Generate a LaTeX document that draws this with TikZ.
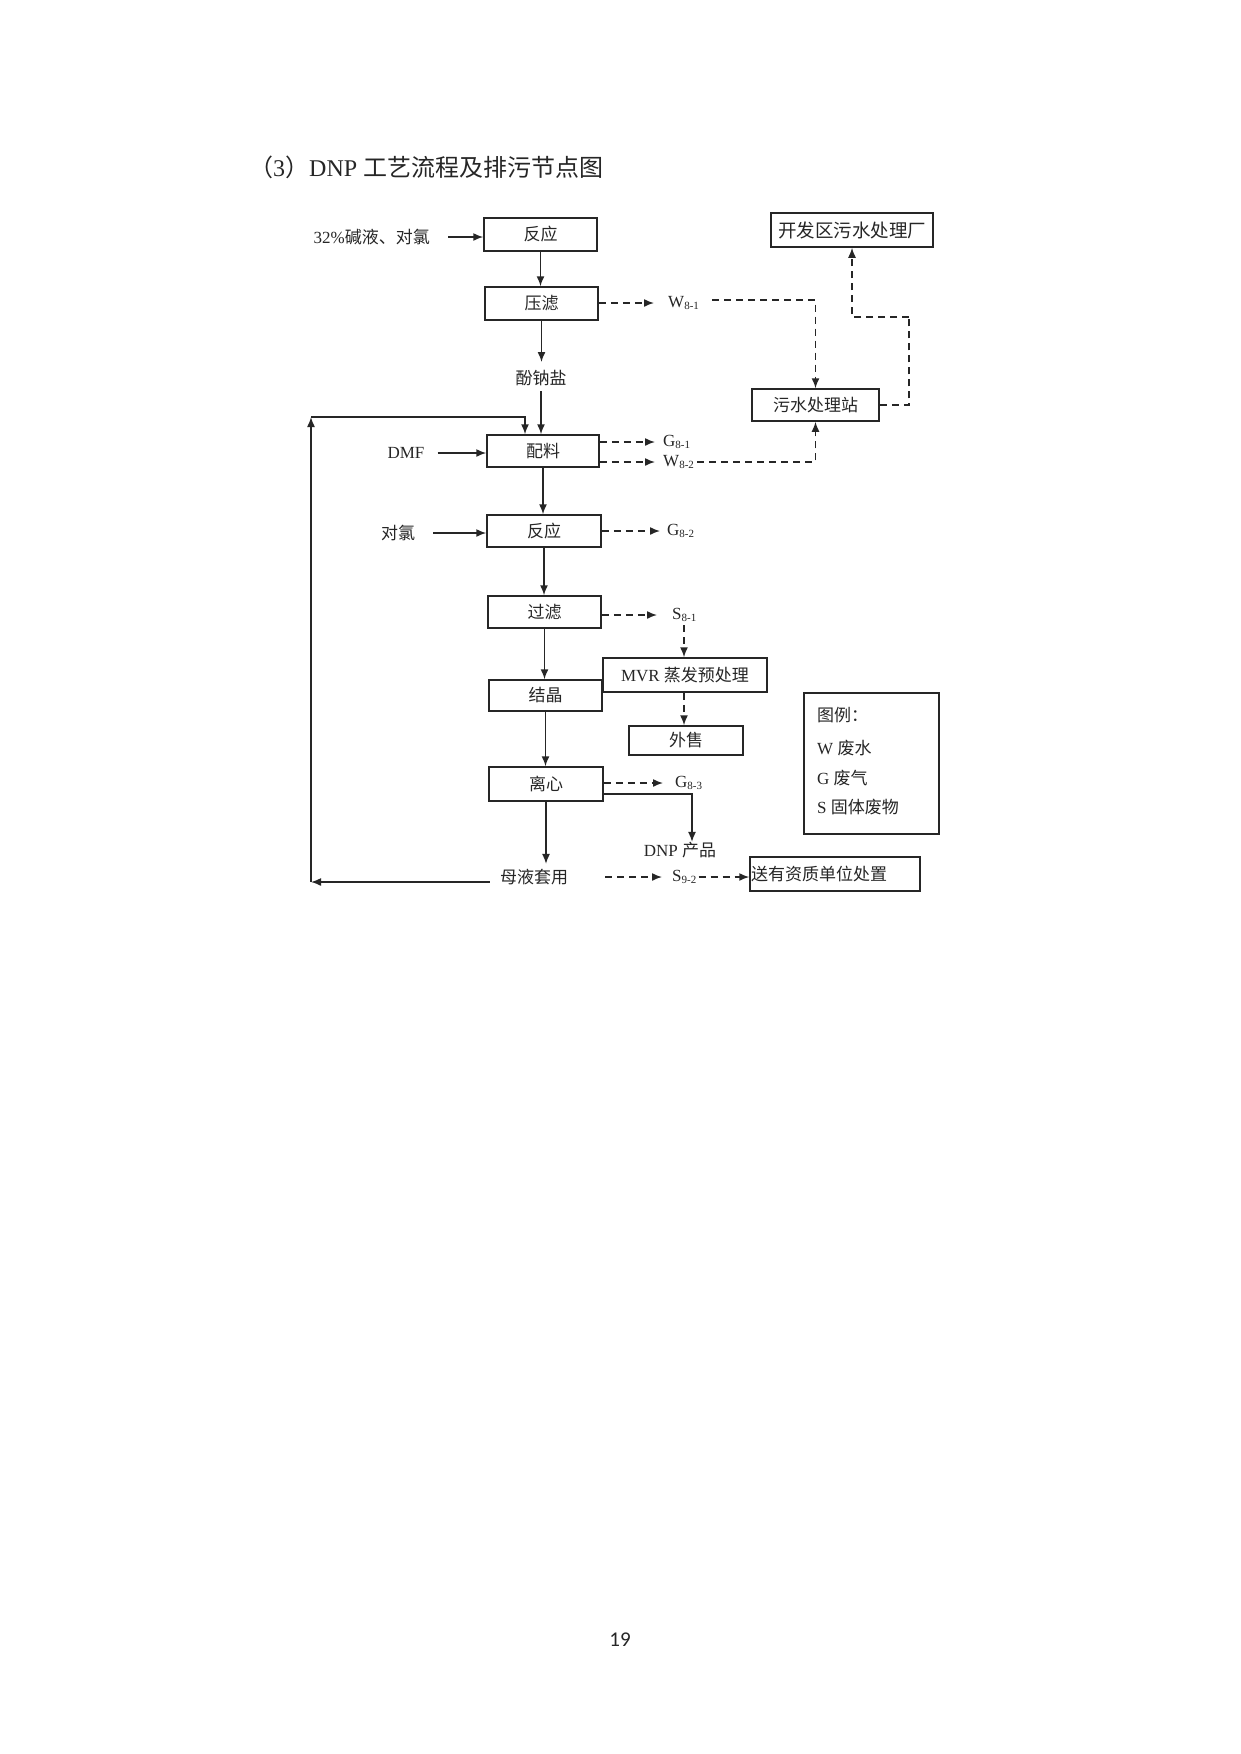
\documentclass[tikz,border=0pt]{standalone}
\usepackage{fontspec}
\setmainfont{Liberation Serif}
\newfontfamily\cjk{Noto Sans CJK SC}
\newfontfamily\pagefont{Carlito}
\usetikzlibrary{arrows.meta}
\newcommand\sbs[1]{\raisebox{-0.35ex}{\fontsize{11}{12}\selectfont #1}}
\begin{document}
\begin{tikzpicture}[x=1pt,y=-1pt,
  every node/.style={text=black!85},
  box/.style={draw=black!85,line width=1.5pt,inner sep=0pt,font=\fontsize{17}{20}\selectfont\cjk},
  lbl/.style={inner sep=0pt,font=\fontsize{17}{20}\selectfont},
  arr/.style={draw=black!85,line width=1.5pt,-{Latex[length=10pt,width=8pt]}},
  darr/.style={arr,dash pattern=on 7pt off 5pt},
  dline/.style={draw=black!85,line width=1.5pt,dash pattern=on 7pt off 5pt}]
\useasboundingbox (0,0) rectangle (1241,1754);
\fill[white] (0,0) rectangle (1241,1754);

% title
\node[anchor=west,inner sep=0pt,font=\fontsize{24}{28}\selectfont] (title) at (249,167)
  {{\cjk （}3{\cjk ）}DNP {\cjk 工艺流程及排污节点图}};

% main column
\node[box,minimum width=113pt,minimum height=33pt] (r1) at (540.5,234.5) {反应};
\node[box,minimum width=113pt,minimum height=33pt] (yl) at (541.5,303.5) {压滤};
\node[lbl] (fns) at (541,378) {\cjk 酚钠盐};
\node[box,minimum width=112pt,minimum height=32pt] (pl) at (543,451) {配料};
\node[box,minimum width=114pt,minimum height=32pt] (r2) at (544,531) {反应};
\node[box,minimum width=113pt,minimum height=32pt] (gl) at (544.5,612) {过滤};
\node[box,minimum width=113pt,minimum height=31pt] (jj) at (545.5,695.5) {结晶};
\node[box,minimum width=114pt,minimum height=34pt] (lx) at (546,784) {离心};
\node[lbl] (myy) at (534,877) {\cjk 母液套用};

% side boxes
\node[box,minimum width=164pt,minimum height=34pt] (mvr) at (685,675) {{\rmfamily MVR }蒸发预处理};
\node[box,minimum width=114pt,minimum height=29pt] (ws) at (686,740.5) {外售};
\node[box,minimum width=162pt,minimum height=34pt,font=\fontsize{18.5}{21}\selectfont\cjk] (kfq) at (852,230) {开发区污水处理厂};
\node[box,minimum width=127pt,minimum height=32pt] (wsz) at (815.5,405) {污水处理站};
\node[box,text width=168pt,align=left,inner xsep=1pt,minimum height=34pt] (sy) at (835,874) {送有资质单位处置};
\node[lbl] (dnp) at (680,850) {DNP {\cjk 产品}};

% inputs
\node[lbl,anchor=east] (in1) at (430,237) {32\%{\cjk 碱液、对氯}};
\node[lbl] (dmf) at (406,453) {DMF};
\node[lbl] (dl) at (398,533) {\cjk 对氯};
\draw[arr] ([xshift=18pt]in1.east) -- (in1.east -| r1.west);
\draw[arr] ([xshift=13pt]dmf.east) -- (dmf.east -| pl.west);
\draw[arr] ([xshift=18pt]dl.east) -- (dl.east -| r2.west);

% main flow
\draw[arr] (r1.south) -- (r1.south |- yl.north);
\draw[arr,shorten >=8pt] (yl.south) -- (yl.south |- fns.north);
\draw[arr,shorten <=5pt] (fns.south) -- (fns.south |- pl.north);
\draw[arr] (pl.south) -- (pl.south |- r2.north);
\draw[arr] (r2.south) -- (r2.south |- gl.north);
\draw[arr] (gl.south) -- (gl.south |- jj.north);
\draw[arr] (jj.south) -- (jj.south |- lx.north);
\draw[arr,shorten >=5pt] (lx.south) -- (lx.south |- myy.north);

% recycle loop
\coordinate (c1) at (311,882);
\coordinate (c2) at (311,417);
\draw[arr] ([xshift=-10pt,yshift=-5pt]myy.west) -- (c1);
\draw[arr] (c1) -- (c2);
\draw[arr] (c2) -| ([xshift=-18pt]pl.north);

% emissions
\node[lbl,anchor=west] (w81) at (668,303) {W\sbs{8-1}};
\node[lbl,anchor=west] (g81) at (663,442) {G\sbs{8-1}};
\node[lbl,anchor=west] (w82) at (663,462) {W\sbs{8-2}};
\node[lbl,anchor=west] (g82) at (667,531) {G\sbs{8-2}};
\node[lbl,anchor=west] (s81) at (672,615) {S\sbs{8-1}};
\node[lbl,anchor=west] (g83) at (675,783) {G\sbs{8-3}};
\node[lbl,anchor=west] (s92) at (672,877) {S\sbs{9-2}};

\draw[darr] (yl.east |- w81.west) -- ([xshift=-14pt]w81.west);
\draw[darr] ([xshift=13pt,yshift=3pt]w81.east) -| (wsz.north);
\coordinate (e1) at (909,317);
\draw[dline] (wsz.east) -| (e1);
\draw[darr] (e1) -| (kfq.south);

\draw[darr] (pl.east |- g81.west) -- ([xshift=-8pt]g81.west);
\draw[darr] (pl.east |- w82.west) -- ([xshift=-8pt]w82.west);
\draw[darr] ([xshift=3pt]w82.east) -| (wsz.south);

\draw[darr] (r2.east |- g82.west) -- ([xshift=-7pt]g82.west);
\draw[darr] (gl.east |- s81.west) -- ([xshift=-15pt]s81.west);
\draw[darr] ([xshift=12pt,yshift=-3pt]s81.south west) -- ([xshift=12pt]s81.south west |- mvr.north);
\draw[darr] ([xshift=-1pt]mvr.south) -- ([xshift=-1pt]mvr.south |- ws.north);

\draw[darr] (lx.east |- g83.west) -- ([xshift=-12pt]g83.west);
\draw[arr] ([yshift=-10pt]lx.east) -| ([xshift=12pt]dnp.north);

\draw[darr] ([xshift=37pt]myy.east) -- ([xshift=-10pt]s92.west);
\draw[darr] ([xshift=2pt]s92.east) -- (s92.east -| sy.west);

% legend
\node[draw=black!85,line width=1.5pt,minimum width=135pt,minimum height=141pt,inner sep=0pt] (lg) at (871.5,763.5) {};
\node[lbl,anchor=west] (lg1) at (817,715) {\cjk 图例：};
\node[lbl,anchor=west] (lg2) at (817,748) {W {\cjk 废水}};
\node[lbl,anchor=west] (lg3) at (817,778) {G {\cjk 废气}};
\node[lbl,anchor=west] (lg4) at (817,807) {S {\cjk 固体废物}};

% page number
\node[inner sep=0pt,font=\pagefont\fontsize{21}{24}\selectfont] (pg) at (620,1640) {19};
\end{tikzpicture}
\end{document}
